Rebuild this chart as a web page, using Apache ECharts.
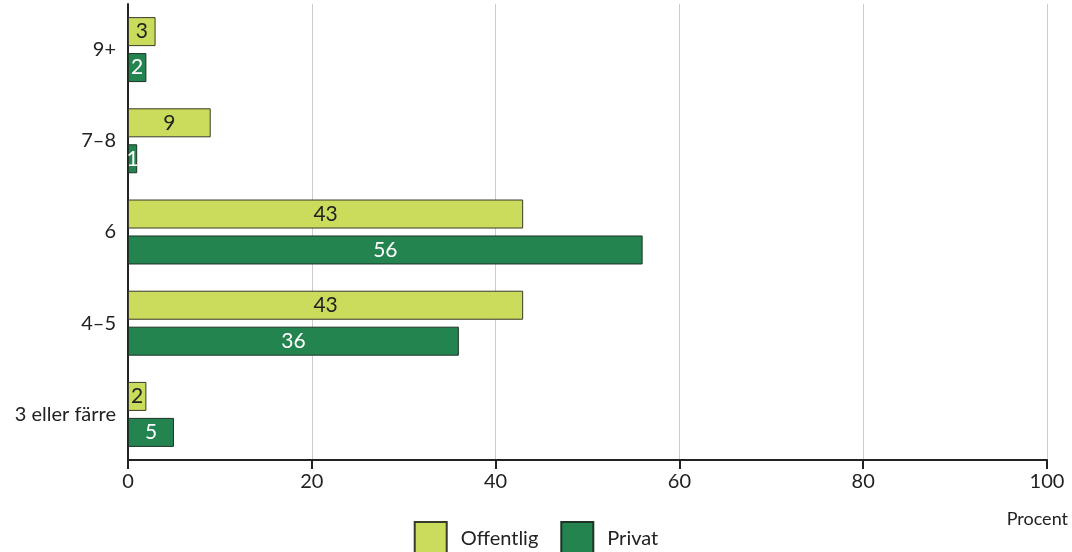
<!DOCTYPE html>
<html><head><meta charset="utf-8">
<script src="https://cdn.jsdelivr.net/npm/echarts@6/dist/echarts.min.js"></script>
<style>html,body{margin:0;padding:0;background:#fff}#c{width:1072px;height:552px}</style>
</head><body><div id="c"></div>
<script>
const categories = ['3 eller färre', '4–5', '6', '7–8', '9+'];
const offentlig = [2, 43, 43, 9, 3];
const privat = [5, 36, 56, 1, 2];
const xTicks = [0, 20, 40, 60, 80, 100];

const FONT = 'Lato';
const chart = echarts.init(document.getElementById('c'));
chart.setOption({
  animation: false,
  textStyle: { fontFamily: FONT },
  grid: { left: 128, right: 25, top: 4, bottom: 92, containLabel: false },
  xAxis: {
    type: 'value', min: 0, max: 100, interval: 20,
    axisLine: { show: true, lineStyle: { color: '#222', width: 2 } },
    axisTick: { show: true, length: 9, lineStyle: { color: '#222', width: 2 } },
    axisLabel: { color: '#222', fontSize: 20, margin: 12, fontFamily: FONT,
      formatter: v => xTicks.includes(v) ? String(v) : '' },
    splitLine: { show: true, lineStyle: { color: '#cccccc', width: 1 } }
  },
  yAxis: {
    type: 'category', data: categories,
    axisLine: { show: true, lineStyle: { color: '#222', width: 2 } },
    axisTick: { show: false },
    axisLabel: { color: '#222', fontSize: 20, margin: 12, fontFamily: FONT }
  },
  legend: {
    left: 'center', top: 516, itemWidth: 32, itemHeight: 33, itemGap: 22,
    icon: 'rect',
    textStyle: { color: '#222', fontSize: 20, fontFamily: FONT, padding: [0, 0, 0, 9] },
    data: ['Offentlig', 'Privat']
  },
  series: [
    {
      name: 'Offentlig', type: 'bar', data: offentlig, barWidth: 29, barGap: '24%',
      itemStyle: { color: '#cbdc5d', borderColor: '#3a3a2a', borderWidth: 1 },
      label: { show: true, position: 'inside', color: '#222', fontSize: 21, fontFamily: FONT }
    },
    {
      name: 'Privat', type: 'bar', data: privat, barWidth: 29,
      itemStyle: { color: '#23844f', borderColor: '#1e3326', borderWidth: 1 },
      label: { show: true, position: 'inside', color: '#ffffff', fontSize: 21, fontFamily: FONT }
    }
  ],
  graphic: [{
    type: 'text', right: 4, top: 510,
    style: { text: 'Procent', fill: '#222', fontSize: 18, fontFamily: FONT }
  }]
});
</script></body></html>
